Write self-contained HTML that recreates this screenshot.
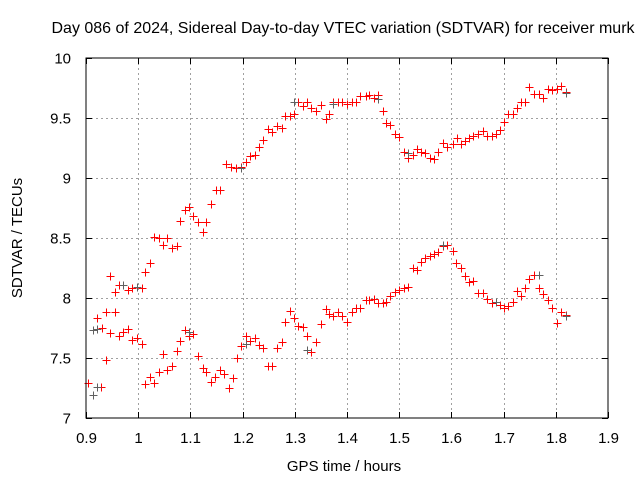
<!DOCTYPE html>
<html><head><meta charset="utf-8"><style>
html,body{margin:0;padding:0;background:#fff;}
svg{display:block;font-family:"Liberation Sans",Arial,sans-serif;}
</style></head><body>
<svg id="chart" width="640" height="480">
<text x="343" y="33" font-size="16" text-anchor="middle">Day 086 of 2024, Sidereal Day-to-day VTEC variation (SDTVAR) for receiver murk</text>
<text x="0" y="0" font-size="15" text-anchor="middle" transform="translate(22,238) rotate(-90)">SDTVAR / TECUs</text>
<text x="344" y="471" font-size="15" text-anchor="middle">GPS time / hours</text>
<g id="grid"></g><g id="ticks"></g><g id="marks"></g>
<rect x="86" y="58" width="522" height="360" fill="none" stroke="#000" stroke-width="1"/>
</svg>
<script>
const xTicks=[0.9,1.0,1.1,1.2,1.3,1.4,1.5,1.6,1.7,1.8,1.9];
const xTickLabels=["0.9","1","1.1","1.2","1.3","1.4","1.5","1.6","1.7","1.8","1.9"];
const yTicks=[7,7.5,8,8.5,9,9.5,10];
const yTickLabels=["7","7.5","8","8.5","9","9.5","10"];
const times=[0.904,0.913,0.921,0.929,0.938,0.913,0.921,0.931,0.938,0.946,0.956,0.946,0.956,0.963,0.963,0.971,0.971,0.980,0.980,0.988,0.988,0.998,0.998,1.007,1.007,1.013,1.013,1.023,1.023,1.030,1.030,1.040,1.040,1.048,1.048,1.055,1.055,1.065,1.065,1.074,1.074,1.080,1.080,1.090,1.090,1.097,1.097,1.105,1.105,1.115,1.115,1.124,1.124,1.130,1.130,1.139,1.139,1.147,1.149,1.157,1.157,1.164,1.168,1.174,1.178,1.182,1.187,1.189,1.197,1.197,1.207,1.207,
1.214,1.224,1.231,1.239,1.249,1.256,1.266,1.275,1.281,1.291,1.298,1.306,1.316,1.323,1.331,1.341,1.350,1.360,1.366,1.373,1.383,1.390,1.400,1.410,1.417,1.425,1.436,1.442,1.452,1.459,1.469,1.475,1.482,1.492,1.500,1.509,1.517,1.526,1.534,1.542,1.549,1.559,1.567,1.574,1.584,1.592,
1.603,1.611,1.618,1.626,1.634,1.641,1.651,1.661,1.668,1.678,1.685,1.693,1.701,1.708,1.718,1.726,1.733,1.741,1.749,1.758,1.768,1.775,1.785,1.793,1.802,1.810,1.820,
1.214,1.224,1.231,1.239,1.249,1.256,1.266,1.275,1.281,1.291,1.298,1.306,1.316,1.323,1.331,1.341,1.350,1.360,1.366,1.373,1.383,1.390,1.400,1.410,1.417,1.425,1.436,1.442,1.452,1.459,1.469,1.475,1.482,1.492,1.500,1.509,1.517,1.526,1.534,1.542,1.549,1.559,1.567,1.574,1.584,1.592,
1.603,1.609,1.618,1.626,1.634,1.641,1.651,1.661,1.668,1.678,1.685,1.693,1.701,1.708,1.718,1.726,1.733,1.741,1.749,1.758,1.768,1.775,1.785,1.793,1.802,1.810,1.820];
const values=[7.29,7.19,7.26,7.26,7.48,7.73,7.83,7.75,7.88,7.71,7.88,8.18,8.05,7.68,8.11,7.72,8.11,7.74,8.07,7.65,8.08,7.67,8.09,7.62,8.08,7.28,8.22,7.34,8.29,7.29,8.51,7.38,8.50,7.53,8.44,7.40,8.50,7.43,8.42,7.56,8.43,7.64,8.64,7.73,8.73,7.68,8.76,7.70,8.68,7.52,8.63,7.42,8.55,7.38,8.63,7.30,8.78,7.34,8.90,7.40,8.90,7.37,9.12,7.25,9.09,7.33,9.08,7.50,9.09,7.60,7.68,9.13,
9.18,9.19,9.26,9.32,9.41,9.38,9.43,9.42,9.52,9.52,9.53,9.63,9.60,9.63,9.58,9.56,9.61,9.49,9.53,9.63,9.63,9.63,9.62,9.63,9.63,9.68,9.68,9.69,9.67,9.69,9.56,9.46,9.44,9.37,9.34,9.22,9.17,9.19,9.24,9.22,9.21,9.17,9.16,9.22,9.29,9.26,
9.28,9.33,9.28,9.31,9.33,9.35,9.37,9.39,9.35,9.35,9.37,9.40,9.47,9.53,9.53,9.58,9.63,9.63,9.76,9.70,9.70,9.67,9.74,9.73,9.74,9.77,9.72,
7.64,7.67,7.61,7.58,7.43,7.43,7.58,7.63,7.80,7.89,7.83,7.77,7.76,7.68,7.55,7.63,7.78,7.91,7.87,7.85,7.88,7.85,7.80,7.88,7.92,7.92,7.98,7.98,7.99,7.96,7.96,7.97,8.02,8.05,8.07,8.08,8.09,8.25,8.23,8.30,8.33,8.35,8.37,8.38,8.43,8.44,
8.39,8.29,8.25,8.18,8.13,8.14,8.04,8.04,7.99,7.96,7.97,7.94,7.92,7.93,7.97,8.06,8.02,8.08,8.16,8.19,8.08,8.03,7.98,7.92,7.79,7.88,7.86];
const refTimes=[0.913,0.921,0.913,0.921,0.971,0.998,1.097,1.197,1.207,1.298,1.323,1.373,1.459,1.517,1.584,1.685,1.768,1.820,1.820];
const refValues=[7.19,7.26,7.73,7.74,8.11,8.09,7.72,9.08,7.62,9.63,7.57,9.62,9.66,9.21,8.44,7.97,8.19,9.71,7.85];

const L=86,R=608,T=58,B=418;
const xS=v=>L+(v-0.9)/(1.9-0.9)*(R-L);
const yS=v=>B-(v-7)/(10-7)*(B-T);
const NS="http://www.w3.org/2000/svg";
function mk(tag,attrs,parent){const e=document.createElementNS(NS,tag);for(const k in attrs)e.setAttribute(k,attrs[k]);parent.appendChild(e);return e;}
const grid=document.getElementById('grid'),ticks=document.getElementById('ticks'),marks=document.getElementById('marks');
xTicks.forEach((v,i)=>{const x=Math.round(xS(v))+0.5;
 if(i>0&&i<xTicks.length-1){const g=mk('line',{x1:x,x2:x,y1:T,y2:B,stroke:'#a0a0a0','stroke-dasharray':'2,3'},grid);
 
 }
 const t1=mk('line',{x1:x,x2:x,y1:B,y2:B-6,stroke:'#000'},ticks);
 
 
 const t2=mk('line',{x1:x,x2:x,y1:T,y2:T+6,stroke:'#000'},ticks);
 
 
 const lb=mk('text',{x:x,y:B+25,'font-size':15,'text-anchor':'middle'},ticks);lb.textContent=xTickLabels[i];
 
 
});
yTicks.forEach((v,i)=>{const y=Math.round(yS(v))+0.5;
 if(i>0&&i<yTicks.length-1){const g=mk('line',{x1:L,x2:R,y1:y,y2:y,stroke:'#a0a0a0','stroke-dasharray':'2,3'},grid);
 
 }
 const t1=mk('line',{x1:L,x2:L+6,y1:y,y2:y,stroke:'#000'},ticks);
 
 
 const t2=mk('line',{x1:R,x2:R-6,y1:y,y2:y,stroke:'#000'},ticks);
 
 
 const lb=mk('text',{x:L-15,y:y+5,'font-size':15,'text-anchor':'end'},ticks);lb.textContent=yTickLabels[i];
 
 
});
function plus(tx,ty,col,name){const x=Math.round(xS(tx))+0.5,y=Math.round(yS(ty))+0.5;
 const p=mk('path',{d:`M${x-4},${y}H${x+4}M${x},${y-4}V${y+4}`,stroke:col,'stroke-width':1,fill:'none'},marks);
 
 }
times.forEach((t,i)=>plus(t,values[i],'#ff0000','sdtvar-point'));
refTimes.forEach((t,i)=>plus(t,refValues[i],'#606060','reference-point'));
</script>
</body></html>
